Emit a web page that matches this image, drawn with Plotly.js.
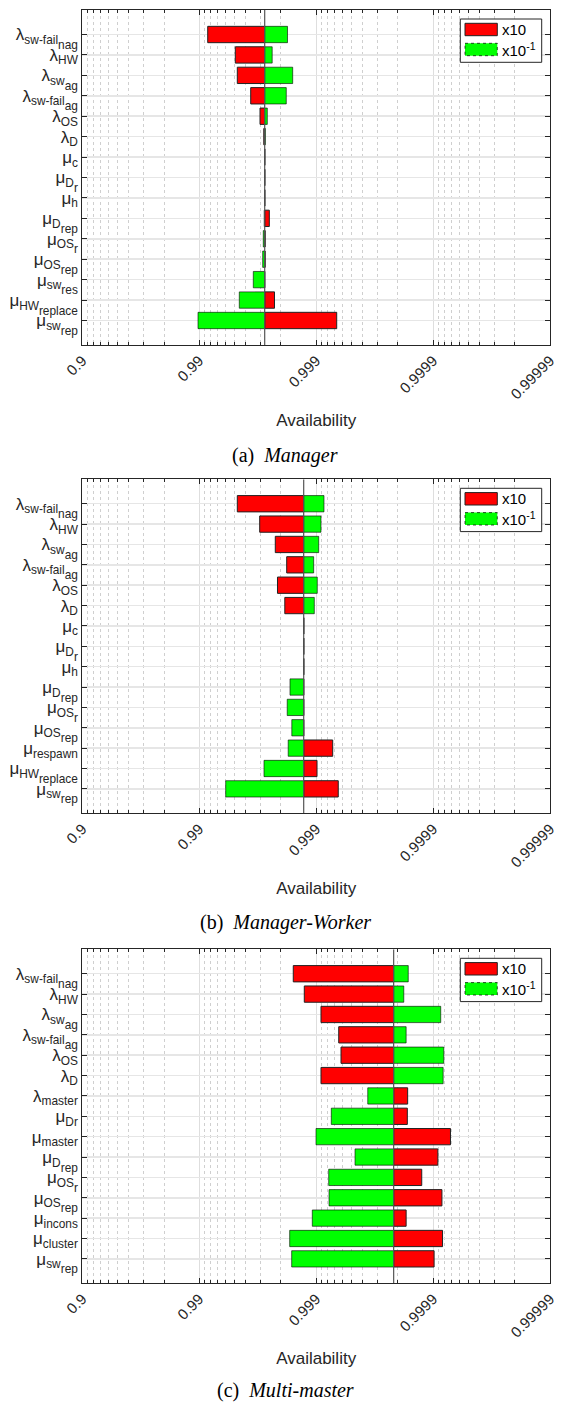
<!DOCTYPE html>
<html><head><meta charset="utf-8">
<script src="https://cdn.plot.ly/plotly-3.0.1.min.js"></script>
<style>html,body{margin:0;padding:0;background:#fff}</style>
</head><body><div id="chart" style="width:561px;height:1404px"></div>
<script>
// ---------- data (availability values) ----------
const xTickVals = [0.1, 0.01, 0.001, 0.0001, 0.00001];   // unavailability = 1 - availability
const xTickText = ['0.9', '0.99', '0.999', '0.9999', '0.99999'];
const seriesNames = ['x10', 'x10<sup>-1</sup>'];
const captions = ['(a)  <i>Manager</i>', '(b)  <i>Manager-Worker</i>', '(c)  <i>Multi-master</i>'];

// second-level subscripts: same size as the subscript, dropped lower
const ss = t => '<span style="baseline-shift:-0.45em">' + t + '</span>';

const labelsManager = ['λ<sub>sw-fail' + ss('nag') + '</sub>','λ<sub>HW</sub>','λ<sub>sw' + ss('ag') + '</sub>','λ<sub>sw-fail' + ss('ag') + '</sub>','λ<sub>OS</sub>','λ<sub>D</sub>','μ<sub>c</sub>','μ<sub>D' + ss('r') + '</sub>','μ<sub>h</sub>','μ<sub>D' + ss('rep') + '</sub>','μ<sub>OS' + ss('r') + '</sub>','μ<sub>OS' + ss('rep') + '</sub>','μ<sub>sw' + ss('res') + '</sub>','μ<sub>HW' + ss('replace') + '</sub>','μ<sub>sw' + ss('rep') + '</sub>'];
const baseManager = 0.997245;
const x10Manager  = [0.99154, 0.995086, 0.995275, 0.996372, 0.996979, 0.997196, 0.997245, 0.997245, 0.997245, 0.997485, 0.99727, 0.99727, 0.997245, 0.997729, 0.999333];
const x01Manager  = [0.998242, 0.997624, 0.998413, 0.998199, 0.997383, 0.997277, 0.997245, 0.997245, 0.997245, 0.997218, 0.997168, 0.997134, 0.996552, 0.995457, 0.989755];

const labelsWorker = ['λ<sub>sw-fail' + ss('nag') + '</sub>','λ<sub>HW</sub>','λ<sub>sw' + ss('ag') + '</sub>','λ<sub>sw-fail' + ss('ag') + '</sub>','λ<sub>OS</sub>','λ<sub>D</sub>','μ<sub>c</sub>','μ<sub>D' + ss('r') + '</sub>','μ<sub>h</sub>','μ<sub>D' + ss('rep') + '</sub>','μ<sub>OS' + ss('r') + '</sub>','μ<sub>OS' + ss('rep') + '</sub>','μ<sub>respawn</sub>','μ<sub>HW' + ss('replace') + '</sub>','μ<sub>sw' + ss('rep') + '</sub>'];
const baseWorker = 0.998722;
const x10Worker  = [0.995275, 0.99696, 0.997764, 0.998214, 0.997859, 0.998146, 0.998722, 0.998722, 0.998722, 0.998722, 0.998722, 0.998722, 0.999278, 0.999017, 0.999353];
const x01Worker  = [0.999143, 0.999091, 0.999049, 0.99895, 0.999022, 0.998963, 0.998722, 0.998722, 0.998722, 0.998326, 0.998232, 0.998385, 0.998266, 0.997207, 0.994063];

const labelsMulti = ['λ<sub>sw-fail' + ss('nag') + '</sub>','λ<sub>HW</sub>','λ<sub>sw' + ss('ag') + '</sub>','λ<sub>sw-fail' + ss('ag') + '</sub>','λ<sub>OS</sub>','λ<sub>D</sub>','λ<sub>master</sub>','μ<sub>Dr</sub>','μ<sub>master</sub>','μ<sub>D' + ss('rep') + '</sub>','μ<sub>OS' + ss('r') + '</sub>','μ<sub>OS' + ss('rep') + '</sub>','μ<sub>incons</sub>','μ<sub>cluster</sub>','μ<sub>sw' + ss('rep') + '</sub>'];
const baseMulti = 0.9997827;
const x10Multi  = [0.998431, 0.998737, 0.999091, 0.999359, 0.999387, 0.999091, 0.999835, 0.999834, 0.999929, 0.999909, 0.999875, 0.999916, 0.99983, 0.999917, 0.999902];
const x01Multi  = [0.999837, 0.999822, 0.999914, 0.99983, 0.999919, 0.999918, 0.999638, 0.999258, 0.998997, 0.999535, 0.999219, 0.999224, 0.998921, 0.998316, 0.998381];

// ---------- build ----------
const panels = [
  {labels: labelsManager, base: baseManager, red: x10Manager, green: x01Manager},
  {labels: labelsWorker,  base: baseWorker,  red: x10Worker,  green: x01Worker},
  {labels: labelsMulti,   base: baseMulti,   red: x10Multi,   green: x01Multi}
];
const W = 561, H = 1404;
const plotLeft = 82.3, plotRight = 550;
const tops = [10, 479.3, 949.3], bottoms = [345, 813.3, 1283.3];
const capY = [455, 922, 1390];
const ink = '#262626';

const minorVals = [];
for (let k = 1; k <= 4; k++) for (let m = 2; m <= 9; m++) minorVals.push(m * Math.pow(10, -(k + 1)));

const data = [], shapes = [], annotations = [];
const layout = {
  width: W, height: H, margin: {l: 0, r: 0, t: 0, b: 0},
  paper_bgcolor: '#fff', plot_bgcolor: '#fff', barmode: 'overlay', showlegend: false,
  font: {family: 'Liberation Sans, Arial, sans-serif', color: ink}
};

panels.forEach((p, i) => {
  const sfx = i === 0 ? '' : String(i + 1);
  const xa = 'x' + sfx, ya = 'y' + sfx;
  const uBase = 1 - p.base;
  const idx = p.labels.map((_, j) => j);
  data.push({
    type: 'bar', orientation: 'h', xaxis: xa, yaxis: ya, name: 'x10',
    y: idx, base: idx.map(() => uBase), x: p.red.map(a => (1 - a) - uBase), width: 0.8,
    marker: {color: '#ff0000', line: {color: '#222', width: 1}}, hoverinfo: 'skip'
  });
  data.push({
    type: 'bar', orientation: 'h', xaxis: xa, yaxis: ya, name: 'x10^-1',
    y: idx, base: idx.map(() => uBase), x: p.green.map(a => (1 - a) - uBase), width: 0.8,
    marker: {color: '#00ff00', line: {color: 'rgba(0,0,0,0.6)', width: 1}}, hoverinfo: 'skip'
  });
  data.push({
    type: 'scatter', mode: 'lines', xaxis: xa, yaxis: ya,
    x: [uBase, uBase], y: [-1.2, 15.2], line: {color: '#555', width: 1.2}, hoverinfo: 'skip'
  });

  const yTop = 1 - tops[i] / H, yBot = 1 - bottoms[i] / H;
  layout['xaxis' + sfx] = {
    type: 'log', range: [-1, -5], domain: [plotLeft / W, plotRight / W], anchor: ya,
    tickmode: 'array', tickvals: xTickVals, ticktext: xTickText, tickangle: -45,
    tickfont: {size: 15, color: ink}, ticks: 'inside', ticklen: 5, tickcolor: ink,
    showline: true, linecolor: ink, linewidth: 1, mirror: 'allticks',
    showgrid: true, gridcolor: '#dedede', gridwidth: 1, zeroline: false,
    minor: {tickmode: 'array', tickvals: minorVals, ticks: 'inside', ticklen: 3, tickcolor: ink,
            showgrid: true, gridcolor: '#cfcfcf', griddash: 'dot', gridwidth: 1},
    title: {text: 'Availability', font: {size: 17, color: ink}, standoff: 12},
    automargin: false, fixedrange: true
  };
  layout['yaxis' + sfx] = {
    range: [15.2, -1.2], domain: [yBot, yTop], anchor: xa,
    tickmode: 'array', tickvals: idx, ticktext: p.labels,
    tickfont: {size: 17, color: ink}, ticks: 'inside', ticklen: 5, tickcolor: ink,
    showline: true, linecolor: ink, linewidth: 1, mirror: 'ticks',
    showgrid: true, gridcolor: '#e6e6e6', gridwidth: 1.5, zeroline: false,
    automargin: false, fixedrange: true
  };

  // legend box (drawn with shapes to get MATLAB-style wide swatches)
  const xd = xa + ' domain', yd = ya + ' domain';
  const ph = bottoms[i] - tops[i], pw = plotRight - plotLeft;
  const fx = px => (px - plotLeft) / pw, fy = py => 1 - py / ph;
  shapes.push({type: 'rect', xref: xd, yref: yd, x0: fx(460.3), x1: fx(541.7), y0: fy(9), y1: fy(52.3),
               line: {color: ink, width: 1}, fillcolor: '#fff', layer: 'above'});
  shapes.push({type: 'rect', xref: xd, yref: yd, x0: fx(465), x1: fx(497.3), y0: fy(13.3), y1: fy(25.7),
               line: {color: '#222', width: 1}, fillcolor: '#ff0000', layer: 'above'});
  shapes.push({type: 'rect', xref: xd, yref: yd, x0: fx(465), x1: fx(497.3), y0: fy(33.3), y1: fy(45.7),
               line: {color: 'rgba(0,0,0,0.7)', width: 1, dash: 'dot'}, fillcolor: '#00ff00', layer: 'above'});
  annotations.push({xref: xd, yref: yd, x: fx(499.5), y: fy(19.5), xanchor: 'left', yanchor: 'middle',
                    text: seriesNames[0], showarrow: false, font: {size: 15, color: '#000'}});
  annotations.push({xref: xd, yref: yd, x: fx(499.5), y: fy(39.5), xanchor: 'left', yanchor: 'middle',
                    text: seriesNames[1], showarrow: false, font: {size: 15, color: '#000'}});
  annotations.push({xref: 'paper', yref: 'paper', x: 285 / W, y: 1 - capY[i] / H, xanchor: 'center', yanchor: 'middle',
                    text: captions[i], showarrow: false,
                    font: {family: 'Liberation Serif, Times New Roman, serif', size: 20, color: '#000'}});
});
layout.shapes = shapes;
layout.annotations = annotations;

Plotly.newPlot('chart', data, layout, {displayModeBar: false, staticPlot: true});
</script></body></html>
